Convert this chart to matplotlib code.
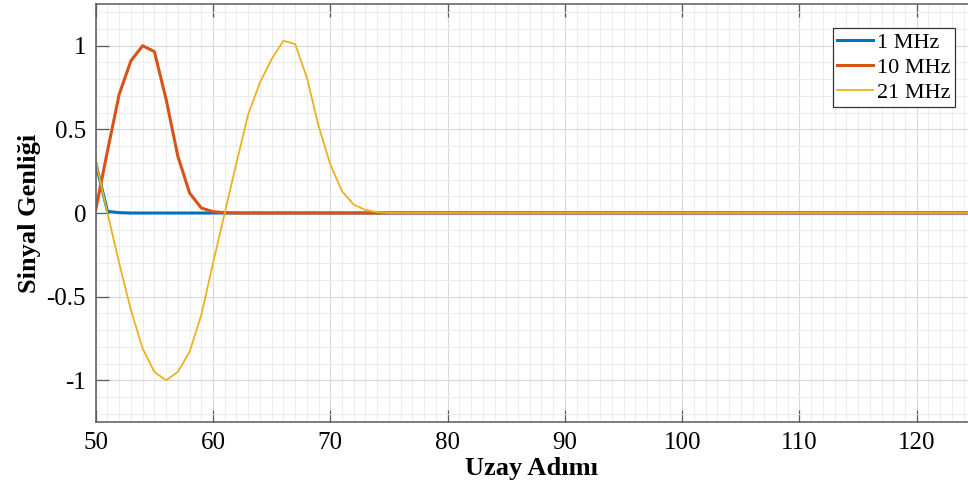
import numpy as np
import matplotlib
matplotlib.use("Agg")
import matplotlib.pyplot as plt
from matplotlib.ticker import MultipleLocator

plt.rcParams['font.family'] = ['Liberation Serif', 'DejaVu Serif']
plt.rcParams['axes.unicode_minus'] = False

# uzay adimlari
x = np.arange(50, 126)

# okunan degerler (sonrasi sifir)
f1_head = [0.30, 0.01, 0.002]
f10_head = [0.02, 0.37, 0.71, 0.91, 1.00, 0.965, 0.68, 0.34, 0.12, 0.03, 0.008, 0.002]
f21_head = [0.31, 0.00, -0.30, -0.58, -0.81, -0.95, -1.00, -0.95, -0.83, -0.61, -0.30,
            0.00, 0.30, 0.59, 0.78, 0.92, 1.03, 1.01, 0.81, 0.52, 0.29, 0.13, 0.05,
            0.018, 0.005]

def pad(head):
    return np.concatenate([head, np.zeros(len(x) - len(head))])

f1 = pad(f1_head)
f10 = pad(f10_head)
f21 = pad(f21_head)

labels = ['1 MHz', '10 MHz', '21 MHz']
colors = ['#0072BD', '#D95319', '#EDB120']

fig = plt.figure(figsize=(9.68, 4.88), dpi=100)
ax = fig.add_axes([0.0989, 0.135, 0.9011, 0.857])

ax.plot(x, f1, color=colors[0], lw=2.2, label=labels[0])
ax.plot(x, f10, color=colors[1], lw=2.2, label=labels[1])
ax.plot(x, f21, color=colors[2], lw=1.3, label=labels[2])

ax.set_xlim(50, 124.37)
ax.set_ylim(-1.25, 1.25)
ax.xaxis.set_major_locator(MultipleLocator(10))
ax.xaxis.set_minor_locator(MultipleLocator(1))
ax.yaxis.set_major_locator(MultipleLocator(0.5))
ax.yaxis.set_minor_locator(MultipleLocator(0.1))
ax.set_yticks([-1, -0.5, 0, 0.5, 1])
ax.set_yticklabels(['-1', '-0.5', '0', '0.5', '1'])

ax.grid(which='major', color='#d9d9d9', lw=0.8)
ax.grid(which='minor', color='#ececec', lw=0.7)
ax.set_axisbelow(True)

for s in ['left', 'bottom', 'top']:
    ax.spines[s].set_color('#5a5a5a')
    ax.spines[s].set_linewidth(1.1)
ax.spines['right'].set_visible(False)

ax.tick_params(which='major', direction='in', length=9, width=0.9, color='#5a5a5a',
               top=True, right=False, labelsize=18, pad=7)
ax.tick_params(which='minor', length=0)

ax.set_xlabel('Uzay Adımı', fontsize=19, fontweight='bold', labelpad=2)
ax.set_ylabel('Sinyal Genliği', fontsize=19, fontweight='bold', labelpad=4)

leg = ax.legend(loc='upper right', bbox_to_anchor=(955 / 968, 1 - 28 / 488),
                bbox_transform=fig.transFigure, borderaxespad=0, fontsize=16,
                fancybox=False, framealpha=1, edgecolor='#333333',
                handlelength=1.6, handletextpad=0.2, labelspacing=0.2,
                borderpad=0.2)
leg.get_frame().set_linewidth(0.9)

fig.savefig('out.png', dpi=100)
